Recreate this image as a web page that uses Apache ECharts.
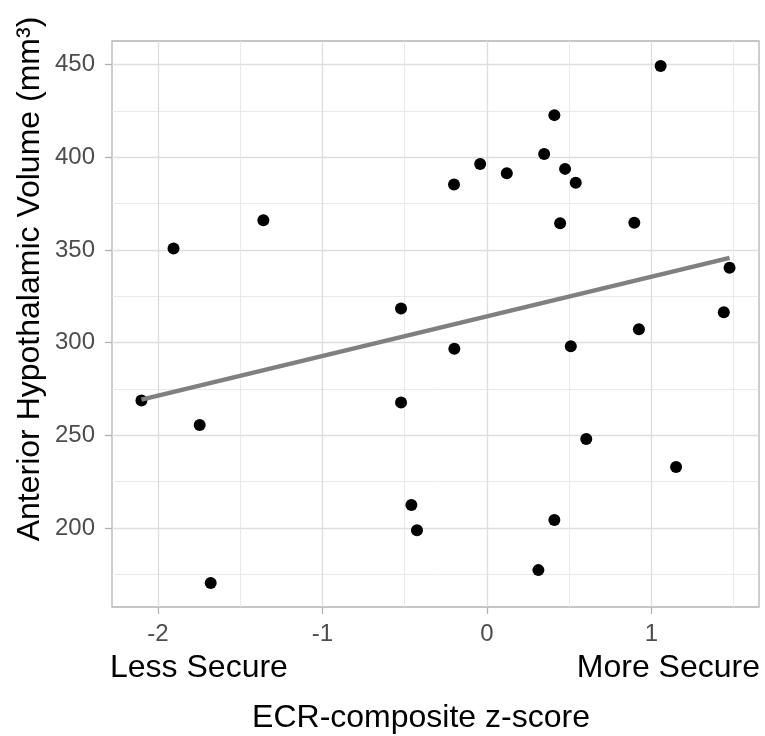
<!DOCTYPE html>
<html>
<head>
<meta charset="utf-8">
<script src="https://cdn.jsdelivr.net/npm/echarts@6/dist/echarts.min.js"></script>
<style>
html,body{margin:0;padding:0;background:#fff;}
#chart{width:765px;height:736px;}
</style>
</head>
<body>
<div id="chart"></div>
<script>
// ECR-composite z-score (x) and anterior hypothalamic volume in mm3 (y)
const ecrScore = [-2.10, -1.905, -1.746, -1.679, -1.359, -0.522, -0.522, -0.459, -0.425,
  -0.200, -0.198, -0.041, 0.121, 0.313, 0.348, 0.410, 0.410, 0.445, 0.475, 0.510,
  0.540, 0.604, 0.896, 0.924, 1.056, 1.150, 1.440, 1.475];
const volume = [268.8, 350.9, 255.6, 170.3, 366.1, 318.5, 267.7, 212.4, 198.8,
  385.4, 296.7, 396.4, 391.4, 177.3, 401.8, 422.8, 204.3, 364.5, 393.8, 298.1,
  386.3, 248.1, 364.7, 307.3, 449.3, 232.9, 316.5, 340.4];
// linear fit line endpoints
const fitX = [-2.10, 1.475];
const fitY = [269.3, 345.8];
// axis ticks
const xMajor = [-2, -1, 0, 1];
const xMinor = [-1.5, -0.5, 0.5, 1.5];
const yMajor = [200, 250, 300, 350, 400, 450];
const yMinor = [175, 225, 275, 325, 375, 425];
const xRange = [-2.279, 1.654];
const yRange = [157.4, 462.8];
const xTitle = 'ECR-composite z-score';
const yTitle = 'Anterior Hypothalamic Volume (mm\u00b3)';
const leftNote = 'Less Secure';
const rightNote = 'More Secure';

const FONT = '"Liberation Sans", Arial, Helvetica, sans-serif';
const chart = echarts.init(document.getElementById('chart'), null, {renderer: 'canvas'});

function axisPair(dim, range, major, minor) {
  const pos = dim === 'x' ? 'bottom' : 'left';
  const minorAxis = {
    type: 'value', min: range[0], max: range[1], position: pos,
    axisLine: {show: false, onZero: false},
    axisTick: {show: false, customValues: minor},
    axisLabel: {show: false},
    splitLine: {show: true, lineStyle: {color: '#E6E6E6', width: 0.9}}
  };
  const majorAxis = {
    type: 'value', min: range[0], max: range[1], position: pos,
    axisLine: {show: false, onZero: false},
    axisTick: {show: true, customValues: major, length: 7,
      lineStyle: {color: '#B3B3B3', width: 1.3}},
    axisLabel: {show: true, customValues: major, color: '#4D4D4D',
      fontSize: 24, fontFamily: FONT, margin: dim === 'x' ? 15 : 17},
    splitLine: {show: true, lineStyle: {color: '#DEDEDE', width: 1.3}}
  };
  return [minorAxis, majorAxis];
}

const option = {
  backgroundColor: '#ffffff',
  animation: false,
  grid: {left: 112, right: 6, top: 41, bottom: 129, show: true,
    borderColor: '#B3B3B3', borderWidth: 1.3, backgroundColor: 'transparent'},
  xAxis: axisPair('x', xRange, xMajor, xMinor),
  yAxis: axisPair('y', yRange, yMajor, yMinor),
  series: [
    {
      type: 'scatter',
      data: ecrScore.map((x, i) => [x, volume[i]]),
      symbolSize: 12,
      itemStyle: {color: '#000000', opacity: 1},
      z: 3
    },
    {
      type: 'line',
      data: fitX.map((x, i) => [x, fitY[i]]),
      showSymbol: false,
      symbol: 'none',
      lineStyle: {color: '#808080', width: 4.5},
      z: 4
    }
  ],
  graphic: [
    {type: 'text', x: 110, y: 668, style: {text: leftNote, font: '32px ' + FONT,
      fill: '#000', textAlign: 'left', textVerticalAlign: 'middle'}},
    {type: 'text', x: 760, y: 668, style: {text: rightNote, font: '32px ' + FONT,
      fill: '#000', textAlign: 'right', textVerticalAlign: 'middle'}},
    {type: 'text', x: 421, y: 718, style: {text: xTitle, font: '32px ' + FONT,
      fill: '#000', textAlign: 'center', textVerticalAlign: 'middle'}},
    {type: 'text', x: 30, y: 279, rotation: Math.PI / 2, style: {text: yTitle,
      font: '32px ' + FONT, fill: '#000', textAlign: 'center', textVerticalAlign: 'middle'}}
  ]
};
chart.setOption(option);
</script>
</body>
</html>
